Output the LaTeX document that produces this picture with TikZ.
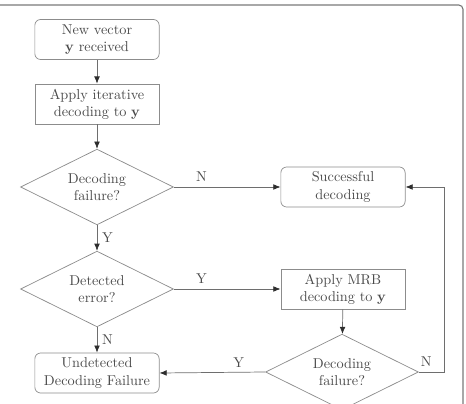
\documentclass[tikz,border=0pt]{standalone}
\definecolor{boxstroke}{HTML}{8C8C8C}
\definecolor{textgray}{HTML}{4A4A4A}
\definecolor{linkgray}{HTML}{6E6E6E}
\definecolor{tipgray}{HTML}{2E2E2E}
\definecolor{framegray}{HTML}{7A7A7A}
\usepackage{tikz}
\usetikzlibrary{arrows.meta, positioning, shapes.geometric}

\tikzset{
  startbox/.style={draw=boxstroke, rounded corners=4pt, minimum width=87pt, minimum height=28pt, align=center, text=textgray, inner sep=1pt},
  procbox/.style={draw=boxstroke, minimum width=87pt, minimum height=28pt, align=center, text=textgray, inner sep=1pt},
  decision/.style={diamond, draw=boxstroke, aspect=2, minimum width=107pt, minimum height=53pt, inner sep=0pt, align=center, text=textgray},
  link/.style={draw=linkgray, ->},
  answer/.style={text=textgray}
}

\begin{document}
\begin{tikzpicture}[x=0.7pt, y=-0.7pt, >={Latex[length=5pt, width=4pt, color=tipgray]}, line width=0.5pt]
  \useasboundingbox (0,0) rectangle (466,404);
  % frame
  \draw[framegray, line width=0.8pt, rounded corners=3pt] (0,5) -- (463,5) -- (463,404);

  % Left column
  \node[startbox] (received) at (97,39.5) {New vector\\$\mathbf{y}$ received};
  \node[procbox] (iterative) at (97,104) {Apply iterative\\decoding to $\mathbf{y}$};
  \node[decision] (failit) at (97,187) {Decoding\\failure?};
  \node[decision] (detected) at (97,289) {Detected\\error?};
  \node[startbox] (undetected) at (97,373) {Undetected\\Decoding Failure};

  % Right column
  \node[startbox] (success) at (343,187) {Successful\\decoding};
  \node[procbox] (mrb) at (343,289) {Apply MRB\\decoding to $\mathbf{y}$};
  \node[decision] (failmrb) at (342,372) {Decoding\\failure?};
  \coordinate (loop) at (444,372);

  % Connectors
  \draw[link] (received) -- (iterative);
  \draw[link] (iterative) -- (failit);
  \draw[link] (failit) -- node[answer, right] {Y} (detected);
  \draw[link] (detected) -- node[answer, right] {N} (undetected);
  \draw[link] (failit.east) -- node[answer, above, pos=0.26] {N} (success.west);
  \draw[link] (detected.east) -- node[answer, above, pos=0.26] {Y} (mrb.west);
  \draw[link] (mrb) -- (failmrb);
  \draw[link] (failmrb.west) -- node[answer, above, pos=0.25] {Y} (undetected.east);
  \draw[link] (failmrb.east) -- node[answer, above, pos=0.3] {N} (loop) |- (success.east);
\end{tikzpicture}
\end{document}
